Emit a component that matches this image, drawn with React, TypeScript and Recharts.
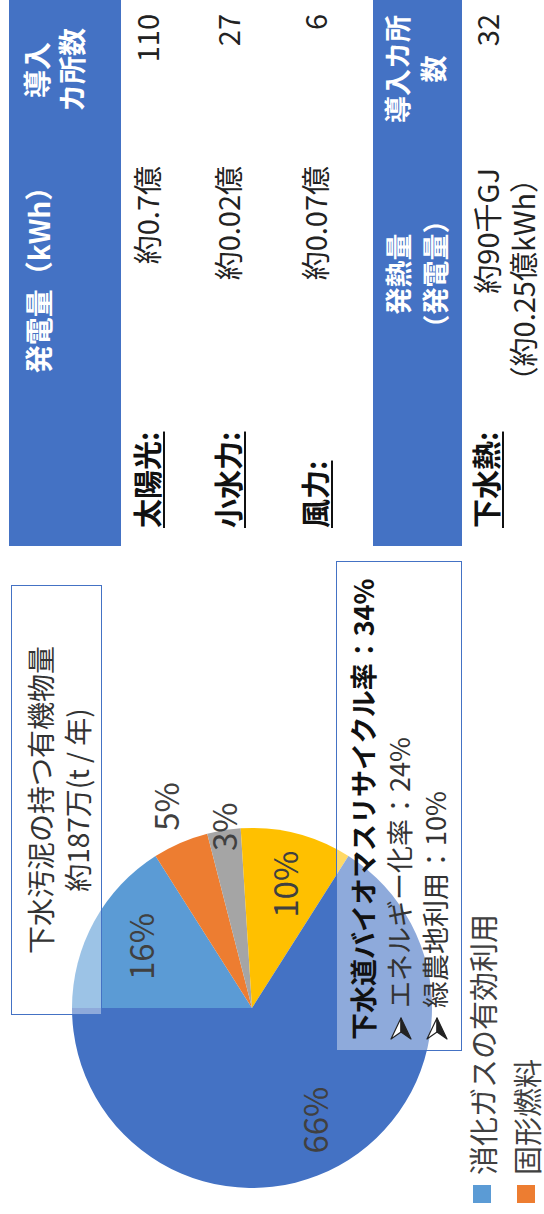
import React from "react";
import { PieChart, Pie, Cell, Legend } from "recharts";

const FONT = "'Noto Sans CJK JP', 'Noto Sans', 'DejaVu Sans', sans-serif";

// sewage sludge usage breakdown
const sliceNames = ["消化ガスの有効利用", "固形燃料", "焼却廃熱利用", "緑農地利用", "未利用"];
const sliceShares = [16, 5, 3, 10, 66];
const sliceColors = ["#5B9BD5", "#ED7D31", "#A5A5A5", "#FFC000", "#4472C4"];

// renewable energy table
const energyTypes = ["太陽光", "小水力", "風力"];
const energyAmounts = ["約0.7億", "約0.02億", "約0.07億"];
const energySites = [110, 27, 6];
const heatType = "下水熱";
const heatAmounts = ["約90千GJ", "（約0.25億kWh）"];
const heatSites = 32;

const pieData = sliceNames.map((name, i) => ({ name, value: sliceShares[i] }));

const RAD = Math.PI / 180;

function renderLabel(props: any) {
  const { cx, cy, midAngle, outerRadius, percent, value } = props;
  const k = percent >= 0.08 ? 0.71 : percent >= 0.04 ? 1.22 : 1.02;
  const r = outerRadius * k;
  const x = cx + r * Math.cos(-midAngle * RAD);
  const y = cy + r * Math.sin(-midAngle * RAD);
  return (
    <text x={x} y={y} fill="#404040" fontSize={33} fontFamily={FONT} textAnchor="middle" dominantBaseline="central">
      {value}%
    </text>
  );
}

function renderLegend(props: any) {
  const payload = (props.payload || [])
    .slice()
    .sort((a: any, b: any) => sliceNames.indexOf(a.value) - sliceNames.indexOf(b.value));
  return (
    <div style={{ fontFamily: FONT }}>
      {payload.map((e: any, i: number) => (
        <div key={i} style={{ display: "flex", alignItems: "center", height: 44, whiteSpace: "nowrap" }}>
          <span style={{ display: "inline-block", width: 18, height: 18, background: e.color || sliceColors[i], marginRight: 10 }} />
          <span style={{ fontSize: 29, lineHeight: "44px", color: "#404040" }}>{e.value}</span>
        </div>
      ))}
    </div>
  );
}

type TxtProps = {
  x: number;
  y: number;
  anchor?: "start" | "middle" | "end";
  size?: number;
  bold?: boolean;
  color?: string;
  underline?: boolean;
  children: React.ReactNode;
};

function Txt({ x, y, anchor = "start", size = 29, bold, color = "#222", underline, children }: TxtProps) {
  const lh = size * 1.3;
  const shift = anchor === "middle" ? "-50%" : anchor === "end" ? "-100%" : "0";
  return (
    <div
      style={{
        position: "absolute",
        left: x,
        top: y - lh / 2,
        lineHeight: `${lh}px`,
        fontSize: size,
        fontWeight: bold ? 700 : 400,
        color,
        whiteSpace: "nowrap",
        transform: `translateX(${shift})`,
        textDecoration: underline ? "underline" : "none",
        textUnderlineOffset: 4,
      }}
    >
      {children}
    </div>
  );
}

// ➢ style bullet
const Arrow = () => (
  <svg width={32} height={24} viewBox="0 0 32 24" style={{ verticalAlign: "-3px" }}>
    <polygon points="1,2 22,12 8,12" fill="#fff" stroke="#222" strokeWidth={1.2} strokeLinejoin="round" />
    <polygon points="1,22 22,12 8,12" fill="#222" stroke="#222" strokeWidth={1.2} strokeLinejoin="round" />
  </svg>
);

const BLUE = "#4472C4";

export default function App() {
  return (
    <div style={{ position: "absolute", left: 0, top: 0, width: 544, height: 1214, overflow: "hidden", background: "#fff", fontFamily: FONT }}>
      <div
        style={{
          position: "absolute",
          left: 0,
          top: 0,
          width: 1214,
          height: 544,
          transformOrigin: "0 0",
          transform: "translate(0px, 1214px) rotate(-90deg)",
        }}
      >
        <PieChart width={660} height={544} margin={{ top: 0, right: 0, bottom: 0, left: 0 }}>
          <Pie
            data={pieData}
            dataKey="value"
            nameKey="name"
            cx={206}
            cy={252}
            outerRadius={180}
            startAngle={90}
            endAngle={-270}
            stroke="none"
            labelLine={false}
            label={renderLabel}
            isAnimationActive={false}
          >
            {pieData.map((d, i) => (
              <Cell key={d.name} fill={sliceColors[i]} />
            ))}
          </Pie>
          <Legend layout="vertical" verticalAlign="bottom" content={renderLegend} wrapperStyle={{ left: 11, top: 460, width: 400 }} />
        </PieChart>

        {/* title box */}
        <div
          style={{
            position: "absolute",
            left: 199,
            top: 11,
            width: 430,
            height: 91,
            boxSizing: "border-box",
            border: `1.5px solid ${BLUE}`,
            background: "rgba(255,255,255,0.4)",
          }}
        />
        <Txt x={414} y={40} anchor="middle" size={28} color="#333">下水汚泥の持つ有機物量</Txt>
        <Txt x={414} y={77} anchor="middle" size={28} color="#333">約187万(t / 年)</Txt>

        {/* recycle box */}
        <div
          style={{
            position: "absolute",
            left: 163,
            top: 336,
            width: 490,
            height: 126,
            boxSizing: "border-box",
            border: `1.5px solid ${BLUE}`,
            background: "rgba(255,255,255,0.4)",
          }}
        />
        <Txt x={174} y={363} size={27} bold color="#111">下水道バイオマスリサイクル率：34%</Txt>
        <Txt x={174} y={399} size={27} color="#333"><Arrow />エネルギー化率：24%</Txt>
        <Txt x={174} y={435} size={27} color="#333"><Arrow />緑農地利用：10%</Txt>

        {/* table: power generation */}
        <div style={{ position: "absolute", left: 668, top: 9, width: 546, height: 112, background: BLUE }} />
        <Txt x={941} y={38} anchor="middle" size={28} bold color="#fff">発電量（kWh）</Txt>
        <Txt x={1144} y={36} anchor="middle" size={28} bold color="#fff">導入</Txt>
        <Txt x={1144} y={71} anchor="middle" size={28} bold color="#fff">カ所数</Txt>
        {energyTypes.map((t, i) => {
          const rowY = [147, 228, 315][i];
          return (
            <React.Fragment key={t}>
              <Txt x={686} y={rowY} size={29} bold underline color="#111">{t}:</Txt>
              <Txt x={1048} y={rowY} anchor="end" size={29}>{energyAmounts[i]}</Txt>
              <Txt x={1200} y={rowY} anchor="end" size={29}>{energySites[i]}</Txt>
            </React.Fragment>
          );
        })}

        {/* table: sewage heat */}
        <div style={{ position: "absolute", left: 668, top: 373, width: 546, height: 89, background: BLUE }} />
        <Txt x={940} y={398} anchor="middle" size={27} bold color="#fff">発熱量</Txt>
        <Txt x={940} y={435} anchor="middle" size={27} bold color="#fff">（発電量）</Txt>
        <Txt x={1145} y={397} anchor="middle" size={27} bold color="#fff">導入カ所</Txt>
        <Txt x={1145} y={433} anchor="middle" size={27} bold color="#fff">数</Txt>
        <Txt x={686} y={486} size={29} bold underline color="#111">{heatType}:</Txt>
        <Txt x={1046} y={487} anchor="end" size={29}>{heatAmounts[0]}</Txt>
        <Txt x={1050} y={523} anchor="end" size={29}>{heatAmounts[1]}</Txt>
        <Txt x={1200} y={487} anchor="end" size={29}>{heatSites}</Txt>
      </div>
    </div>
  );
}
